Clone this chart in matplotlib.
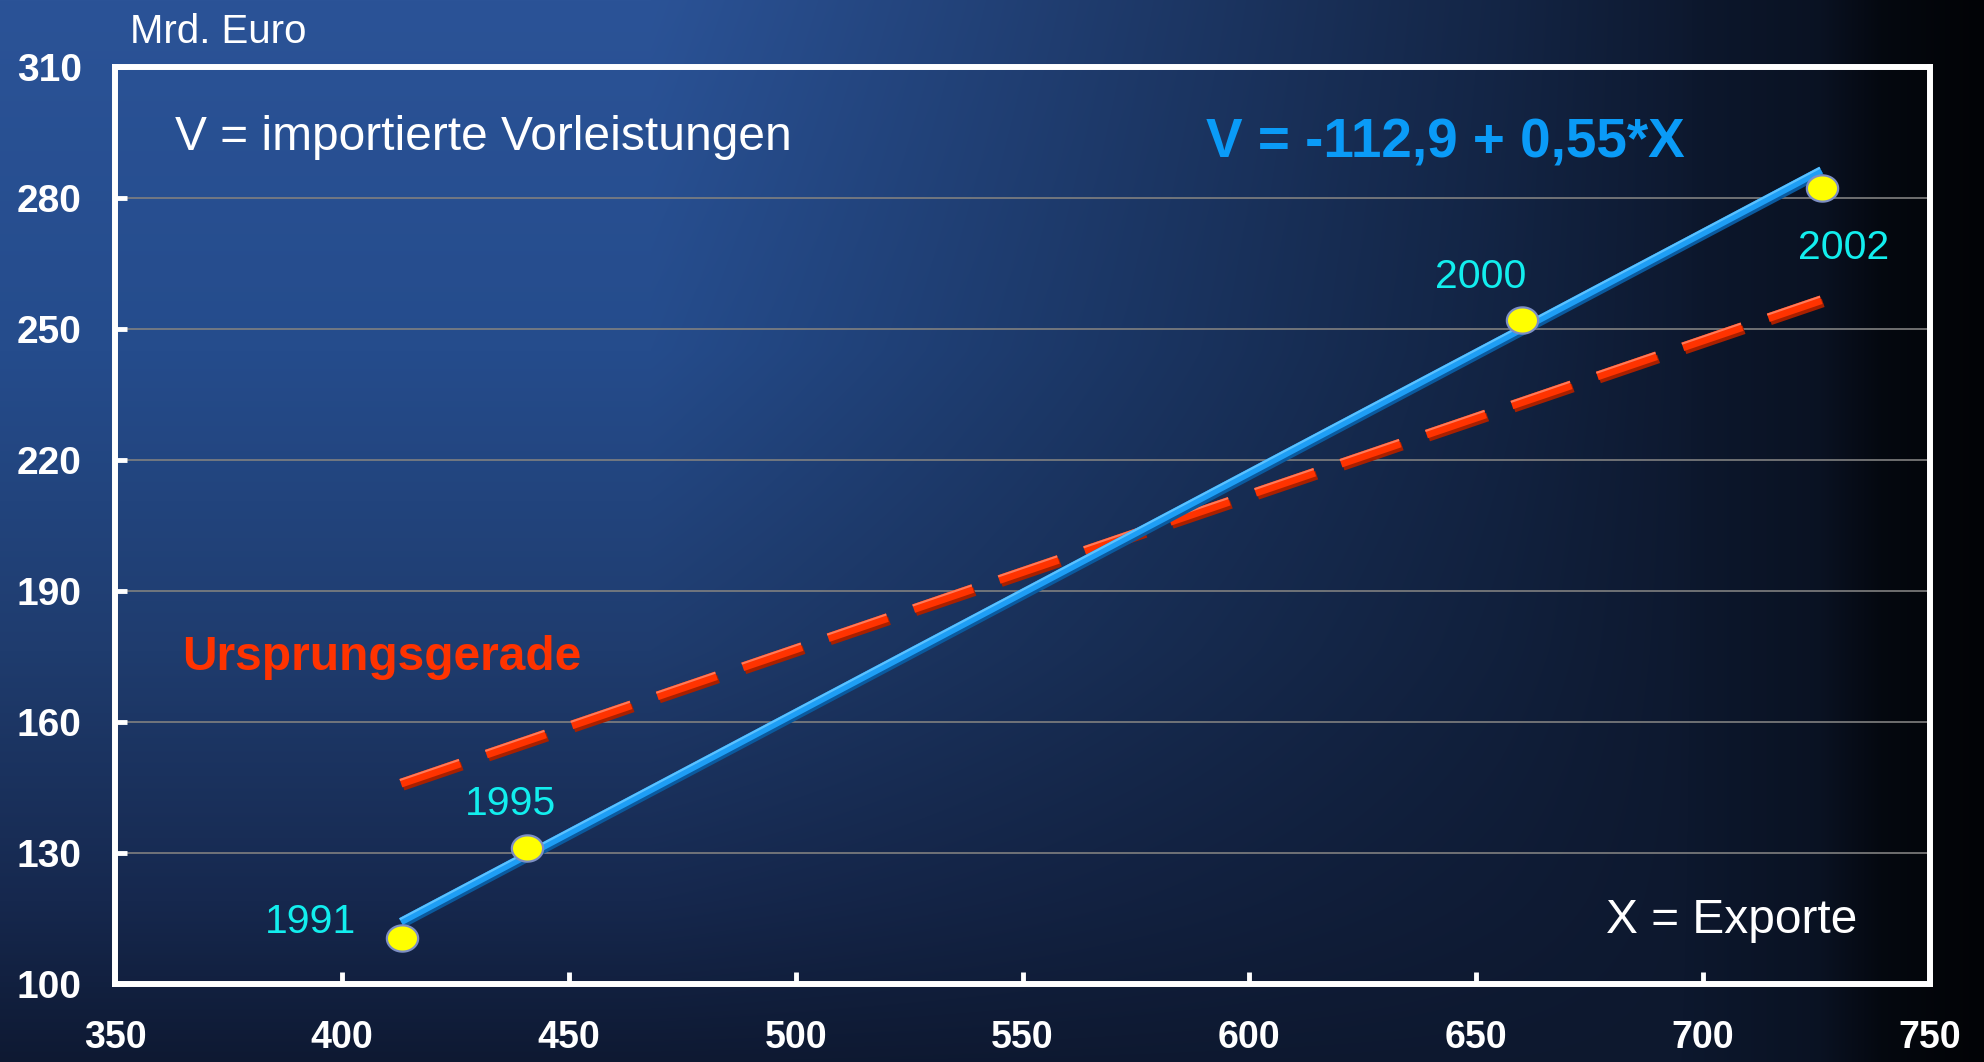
import numpy as np
import matplotlib
matplotlib.use('Agg')
import matplotlib.pyplot as plt
import matplotlib.patheffects as pe
from matplotlib.path import Path

# ---------------- data ----------------
years = ['1991', '1995', '2000', '2002']
exports = [413.3, 440.7, 660.1, 726.2]          # X = Exporte (Mrd. Euro)
vorleistungen = [110.5, 131.1, 252.1, 282.2]    # V = importierte Vorleistungen
reg_x = [413.0, 726.0]                          # Regressionsgerade V = -112,9 + 0,55*X
reg_y = [114.3, 286.4]
orig_x = [413.0, 726.0]                         # Ursprungsgerade
orig_y = [146.0, 256.7]
x_ticks = [350, 400, 450, 500, 550, 600, 650, 700, 750]
y_ticks = [100, 130, 160, 190, 220, 250, 280, 310]
x_tick_labels = [str(v) for v in x_ticks]
y_tick_labels = [str(v) for v in y_ticks]

# ---------------- style ----------------
plt.rcParams['font.family'] = ['Liberation Sans', 'DejaVu Sans']
plt.rcParams['lines.scale_dashes'] = False

W, H = 1984, 1062
fig = plt.figure(figsize=(W / 100, H / 100), dpi=100)

# background gradient
yy, xx = np.mgrid[0:H, 0:W].astype(float)
stops_y = [0, 350, 650, 900, 1062]
base = np.stack([np.interp(yy, stops_y, c) for c in
                 ([43, 37, 31, 22, 14], [83, 76, 60, 40, 25], [151, 140, 110, 78, 50])], axis=-1)
w = np.interp(xx, [0, 650, 1200, 1500, 1700], [0, 0, 0.5, 0.78, 1.0])[..., None]
dark = np.array([13, 24, 46], float)
col = base * (1 - w) + dark * w
f2 = np.interp(xx, [0, 1680, 1820, 1880, 1984], [1, 1, 0.75, 0.35, 0.12])[..., None]
col = np.clip(col * f2, 0, 255) / 255.0
bg = fig.add_axes([0, 0, 1, 1], zorder=-10)
bg.imshow(col, aspect='auto', extent=[0, 1, 0, 1], interpolation='bilinear')
bg.set_axis_off()

# main axes
ax = fig.add_axes([115 / W, 78 / H, (1930 - 115) / W, (984 - 67) / H])
ax.set_facecolor('none')
ax.set_xlim(350, 750)
ax.set_ylim(100, 310)
ax.set_xticks(x_ticks)
ax.set_xticklabels(x_tick_labels)
ax.set_yticks(y_ticks)
ax.set_yticklabels(y_tick_labels)
for lab in ax.get_xticklabels() + ax.get_yticklabels():
    lab.set_fontweight('bold')
ax.tick_params(axis='both', direction='in', length=8.5, width=3.5, color='white',
               labelcolor='white')
ax.tick_params(axis='y', pad=24, labelsize=28)
ax.tick_params(axis='x', pad=26, labelsize=27)
ax.grid(axis='y', color='#808080', lw=1.2)
ax.set_axisbelow(True)
for s in ax.spines.values():
    s.set_color('white')
    s.set_linewidth(4.3)
    s.set_capstyle('projecting')
    s.set_zorder(6)

# Ursprungsgerade (dashed, 3D look)
red_fx = [pe.SimpleLineShadow(offset=(1.5, -2.2), shadow_color='#A82000', alpha=1.0),
          pe.Normal(),
          pe.Stroke(offset=(-0.75, 2.2), linewidth=1.5, foreground='#FF7A5A')]
ax.plot(orig_x, orig_y, color='#FF3300', lw=6.4, dashes=(45.0, 20.0),
        solid_capstyle='butt', dash_capstyle='butt', zorder=3, path_effects=red_fx)

# Regressionsgerade (solid, 3D look)
blue_fx = [pe.SimpleLineShadow(offset=(1.1, -2.0), shadow_color='#0B5A9E', alpha=1.0),
           pe.Normal(),
           pe.Stroke(offset=(-0.85, 1.6), linewidth=1.6, foreground='#5CC2FF')]
ax.plot(reg_x, reg_y, color='#1E9EF5', lw=5.5, solid_capstyle='butt',
        zorder=4, path_effects=blue_fx)

# yellow points
t = np.linspace(0, 2 * np.pi, 80)
ell = Path(np.column_stack([np.cos(t), 0.84 * np.sin(t)]), closed=True)
ax.plot(exports, vorleistungen, linestyle='none', marker=ell, markersize=22.5,
        markerfacecolor='#FFFF00', markeredgecolor='#7D8EC4', markeredgewidth=1.6,
        zorder=5)

# year labels (offsets in points from the point)
offsets = [(-98.6, 3.6), (-44.6, 23.8), (-62.6, 23.0), (-17.3, -51.1)]
for yr, xv, yv, off in zip(years, exports, vorleistungen, offsets):
    ax.annotate(yr, (xv, yv), xytext=off, textcoords='offset points',
                ha='left', va='baseline', color='#12EEEE', fontsize=29.5, zorder=7)

# texts
def ftext(x, y, s, **kw):
    fig.text(x / W, 1 - y / H, s, ha='left', va='baseline', **kw)

ftext(130, 43, 'Mrd. Euro', color='white', fontsize=29)
ftext(175, 150, 'V = importierte Vorleistungen', color='white', fontsize=34.5)
ftext(1206, 157, 'V = -112,9 + 0,55*X', color='#0A9BF7', fontsize=39.5, fontweight='bold')
ftext(182, 670, 'Ursprungsgerade', color='#FF3300', fontsize=34.5, fontweight='bold')
ftext(1606, 933, 'X = Exporte', color='white', fontsize=34.5)

fig.savefig('out.png', dpi=100)
